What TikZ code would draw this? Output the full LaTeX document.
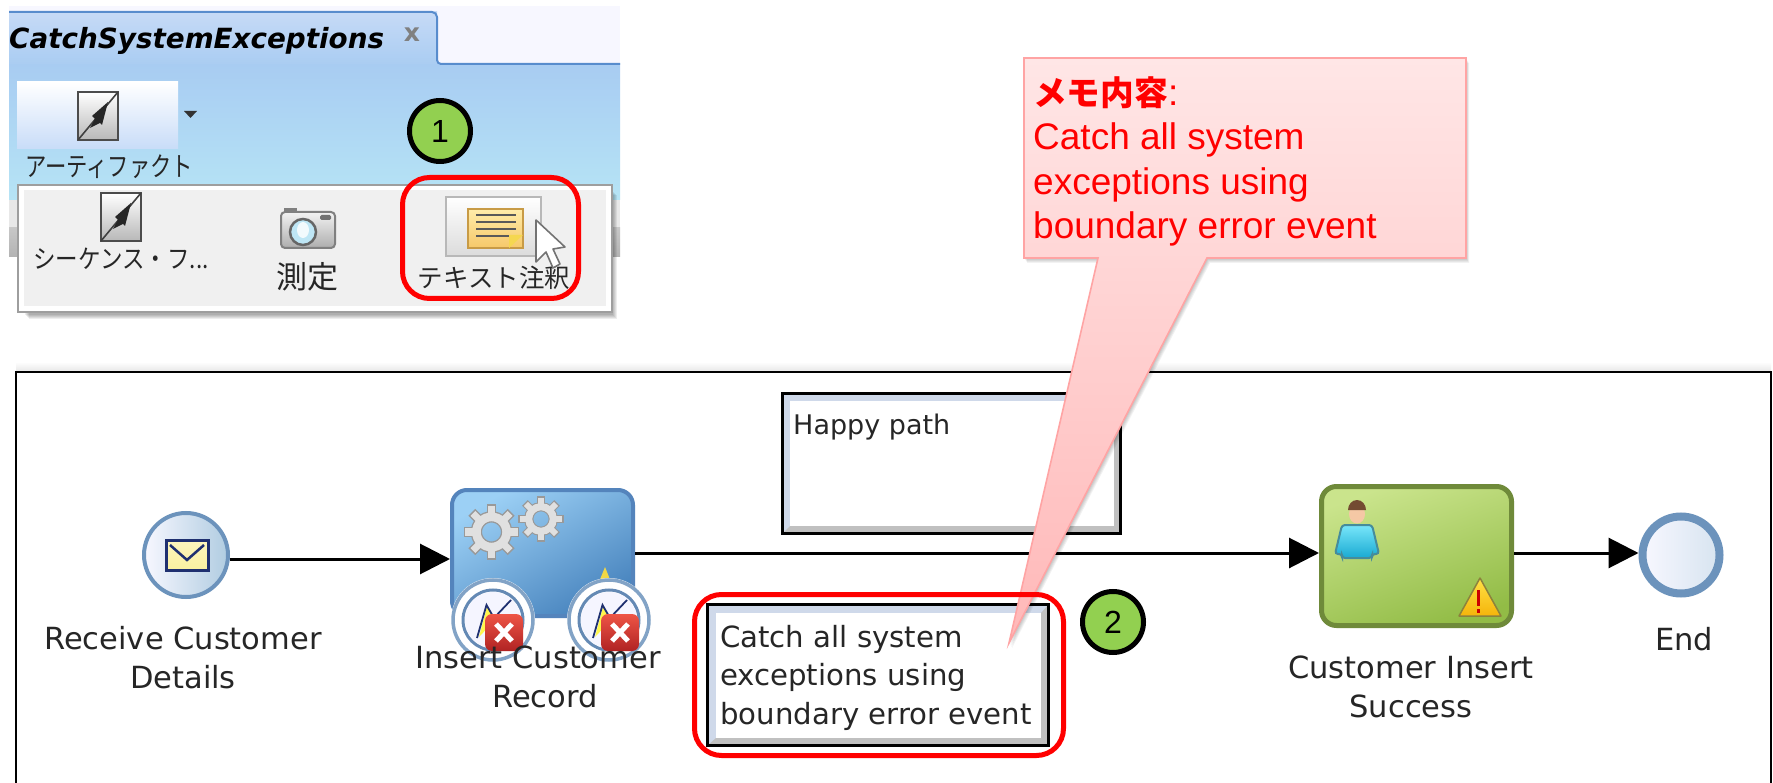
\documentclass[tikz,border=0pt]{standalone}
\usepackage{fontspec}
\usetikzlibrary{arrows.meta,shapes.geometric}
\setmainfont{Liberation Sans}
\newfontfamily\cjkfont{Noto Sans CJK JP}
\newfontfamily\pixfont{DejaVu Sans}
\newcommand{\fsz}[2]{\fontsize{#1pt}{#2pt}\selectfont}
\definecolor{badgegreen}{HTML}{92D050}
\definecolor{bevelblue}{HTML}{CFD9EA}
\definecolor{bevelgray}{HTML}{C0C0C0}
\definecolor{taskblue}{HTML}{5484BC}
\definecolor{eventblue}{HTML}{6C93BC}
\definecolor{taskgreen}{HTML}{6F8A3A}
\definecolor{navy}{HTML}{1F3070}
\definecolor{memoedge}{HTML}{FFA4A4}
\definecolor{pixtext}{HTML}{262626}
\definecolor{bandtop}{RGB}{168,204,242}
\definecolor{bandbot}{RGB}{182,228,245}
\definecolor{tabtop}{RGB}{198,218,246}
\definecolor{tabbot}{RGB}{170,205,242}
\definecolor{tabedge}{RGB}{88,140,205}
\definecolor{btnbot}{RGB}{200,220,248}
\definecolor{lensblue}{RGB}{190,230,245}
\definecolor{noteedge}{RGB}{200,155,70}
\definecolor{notetop}{RGB}{255,236,170}
\definecolor{notebot}{RGB}{246,200,105}
\definecolor{notefold}{RGB}{245,215,80}
\definecolor{startright}{RGB}{176,204,225}
\definecolor{envtop}{RGB}{252,246,190}
\definecolor{envbot}{RGB}{250,240,160}
\definecolor{taskbluetop}{RGB}{156,208,245}
\definecolor{taskbluebot}{RGB}{72,132,190}
\definecolor{warnsmall}{RGB}{240,215,70}
\definecolor{taskgreentop}{RGB}{202,228,140}
\definecolor{taskgreenbot}{RGB}{146,188,70}
\definecolor{skin}{RGB}{245,200,165}
\definecolor{hair}{RGB}{115,75,50}
\definecolor{shirtedge}{RGB}{70,140,155}
\definecolor{shirttop}{RGB}{120,230,250}
\definecolor{shirtbot}{RGB}{25,170,210}
\definecolor{warnedge}{RGB}{140,130,60}
\definecolor{warntop}{RGB}{255,225,70}
\definecolor{warnbot}{RGB}{245,180,10}
\definecolor{endright}{RGB}{215,228,240}
\definecolor{memotop}{RGB}{255,230,230}
\definecolor{memobot}{RGB}{255,184,184}
\definecolor{xtop}{RGB}{238,85,70}
\definecolor{xbot}{RGB}{176,35,35}
\tikzset{
  badge/.style={circle,draw=black,line width=5pt,fill=badgegreen,minimum size=61pt,inner sep=0pt,font=\fsz{32}{36}\color{black}},
  redbox/.style={rectangle,draw=red,line width=5pt,rounded corners=27pt,inner sep=0pt},
  notebox/.style={rectangle,draw=black,line width=3.5pt,inner sep=0pt},
  flow/.style={line width=3pt,draw=black,-{Triangle[length=30pt,width=30pt]}},
  diagramlabel/.style={font=\pixfont\fsz{30.5}{38.5},text=pixtext,align=center,inner sep=0pt},
  notetext/.style={font=\pixfont\fsz{29.2}{38.5},text=pixtext,align=left,inner sep=0pt},
  uitext/.style={font=\cjkfont\fsz{24.5}{28},text=black!85,inner sep=0pt},
  evt/.style={circle,inner sep=0pt,minimum size=84pt},
  flowicon/.pic={
    \draw[line width=1.8pt,draw=black!70,top color=white,bottom color=black!28] (-20,-24) rectangle (20,24);
    \draw[line width=1.6pt,black!75] (-20,24) -- (20,-24);
    \fill[black!85] (10,-14) -- (-6,0) -- (-3,3) -- (-8,12) -- (2,7) -- (4,9) -- cycle;
  },
}
\newcommand{\gearicon}[3]{%
  \foreach \a in {0,45,...,315}{\draw[line width=#3*0.36pt,black!40] (#1,#2)++(\a:#3*.45) -- ++(\a:#3*.58);}
  \draw[line width=#3*.42pt,black!40] (#1,#2) circle ({#3*.56});
  \foreach \a in {0,45,...,315}{\draw[line width=#3*0.26pt,black!12] (#1,#2)++(\a:#3*.45) -- ++(\a:#3*.52);}
  \draw[line width=#3*.32pt,black!12] (#1,#2) circle ({#3*.56});
}
\newcommand{\boundaryicon}[2]{%
  \fill[white] (#1,#2) circle (42);
  \draw[line width=3.5pt,eventblue!85] (#1,#2) circle (40);
  \draw[line width=3pt,eventblue!90!navy] (#1,#2) circle (30);
  \fill[blue!4] (#1,#2) circle (28);
  \fill[yellow!70!white] (#1-6,#2-13) -- (#1+3,#2-1) -- (#1-14,#2+17) -- cycle;
  \draw[line width=1.8pt,navy] (#1-16,#2+18) -- (#1-6.5,#2-15) -- (#1+1,#2-2) -- (#1+18,#2-20);
  \shade[rounded corners=7pt,top color=xtop,bottom color=xbot] (#1-8,#2-6) rectangle (#1+30,#2+31);
  \draw[white,line width=5pt] (#1+3,#2+4) -- (#1+19,#2+21) (#1+19,#2+4) -- (#1+3,#2+21);
}
\begin{document}
\begin{tikzpicture}[x=1pt,y=-1pt]
\useasboundingbox (0,0) rectangle (1773,783);
\fill[white] (0,0) rectangle (1773,783);

% ---------- toolbar screenshot
\fill[blue!3] (9,6) rectangle (620,64);
\fill[top color=bandtop,bottom color=bandbot] (9,64) rectangle (620,200);
\fill[top color=tabtop,bottom color=tabbot] (9,12) rectangle (437,64);
\draw[line width=2pt,tabedge] (9,12) -- (432,12) to[out=0,in=90] (437,17) -- (437,60) to[out=-90,in=180] (441,64) -- (620,64);
\fill[black!9] (9,200) rectangle (620,228);
\fill[top color=black!22,bottom color=black!30] (9,228) rectangle (620,257);
\node[font=\pixfont\bfseries\itshape\fsz{27.8}{30},text=black,anchor=base west,inner sep=0pt] (tabtitle) at (9,49) {CatchSystemExceptions};
\node[font=\pixfont\bfseries\fsz{25}{28},text=black!50,inner sep=0pt] (tabclose) at (412,35) {x};

\fill[top color=white,bottom color=btnbot] (17,82) rectangle (178,149);
\path (98,116) pic {flowicon};
\fill[black!80] (184,111) -- (197,111) -- (190.5,118) -- cycle;
\node[uitext] (artifact) at (109,167) {\scalebox{.87}[1.1]{アーティファクト}};

\foreach \i in {1,...,5}{\fill[black,opacity=.07] (24+\i,190+\i) rectangle (612+\i,314+\i);}
\node[rectangle,draw=black!38,line width=2pt,fill=white,minimum width=594pt,minimum height=127pt,inner sep=0pt] (menu) at (315,248.5) {};
\fill[black!6] (24,190) rectangle (606,306);
\path (121,217) pic {flowicon};
\node[uitext,font=\cjkfont\fsz{22.5}{26}] (seqflow) at (121,259) {\scalebox{1}[1.15]{シーケンス・フ...}};

\draw[line width=2pt,black!50,top color=black!5,bottom color=black!32,rounded corners=4pt] (281,212) rectangle (335,248);
\fill[black!50] (284,212) rectangle (297,208);
\fill[black!55,rounded corners=1.5pt] (320,215) rectangle (331,220);
\draw[line width=2.5pt,black!60,fill=lensblue] (303,232) ellipse (13 and 13);
\fill[white,opacity=.8] (303,230) ellipse (6 and 8);
\node[uitext,font=\cjkfont\fsz{31}{34}] (measure) at (307,277) {測定};

\draw[line width=2pt,black!28,top color=white,bottom color=black!14] (446,197) rectangle (541,256);
\draw[line width=2pt,noteedge,top color=notetop,bottom color=notebot] (468,209) rectangle (523,248);
\foreach \yy in {215,222,229,236}{\draw[line width=2pt,black!65] (476,\yy) -- (516,\yy);}
\fill[notefold] (509,248) -- (523,235) -- (509,235) -- cycle;
\node[uitext,font=\cjkfont\fsz{25.5}{28}] (textnote) at (494,278) {テキスト注釈};
\draw[line width=1.6pt,black!55,fill=white,line join=round] (536,220) -- (536,262) -- (546,252) -- (553,268) -- (560,264) -- (553,249) -- (565,247) -- cycle;

\node[badge] (badgeone) at (440,131) {1};
\node[redbox,minimum width=176pt,minimum height=121pt] (redone) at (490.5,238) {};

% ---------- process frame
\fill[top color=white,bottom color=black!9] (16,362) rectangle (1771,371);
\draw[line width=1.6pt,black] (16,783) -- (16,372) -- (1771,372) -- (1771,783);

% Happy path note
\fill[bevelblue] (783,394) rectangle (1120,532);
\fill[bevelgray] (1120,394) -- (1120,533) -- (783,533) -- (790,526) -- (1114,526) -- (1114,401) -- cycle;
\fill[white] (790,401) rectangle (1114,526);
\node[notebox,minimum width=338pt,minimum height=140pt] (happy) at (951.5,463.5) {};
\node[notetext,font=\pixfont\fsz{27}{30},anchor=base west] (happytext) at (793,435) {Happy path};

% Catch note
\fill[bevelblue] (708,605) rectangle (1048,745);
\fill[bevelgray] (1048,605) -- (1048,745) -- (708,745) -- (716,738) -- (1041,738) -- (1041,613) -- cycle;
\fill[white] (716,613) rectangle (1041,738);
\node[notebox,minimum width=341pt,minimum height=141pt] (catch) at (878,675) {};
\node[notetext,anchor=base west] (catchtext) at (720,724) {Catch all system\\exceptions using\\boundary error event};

% Tasks and events
\node[evt,draw=eventblue,line width=4pt,left color=blue!3,right color=startright] (start) at (186,555) {};
\draw[line width=3pt,navy,top color=envtop,bottom color=envbot] (166,540) rectangle (208,570);
\draw[line width=2.5pt,navy] (170,545) -- (187,560) -- (204,545);

\node[rectangle,rounded corners=15pt,draw=taskblue,line width=4pt,minimum width=181pt,minimum height=126pt,inner sep=0pt,top color=taskbluetop,bottom color=taskbluebot,shading angle=30] (taskone) at (542.5,553) {};
\gearicon{491.5}{532}{27}
\gearicon{541}{519}{22}
\fill[warnsmall] (605,567) -- (611,582) -- (599,582) -- cycle;
\boundaryicon{493}{620}
\boundaryicon{609}{620}

\node[rectangle,rounded corners=15pt,draw=taskgreen,line width=5pt,minimum width=190pt,minimum height=139pt,inner sep=0pt,top color=taskgreentop,bottom color=taskgreenbot,shading angle=20] (tasktwo) at (1416.5,556) {};
\fill[skin] (1357,514) ellipse (8 and 9.5);
\fill[hair] (1348,510) arc (180:360:9 and 10) -- cycle;
\draw[line width=2pt,shirtedge,top color=shirttop,bottom color=shirtbot,rounded corners=3pt] (1342,525) -- (1372,525) -- (1379,554) -- (1372,554) -- (1372,558) -- (1342,558) -- (1342,554) -- (1335,554) -- cycle;
\draw[line width=1.5pt,warnedge,top color=warntop,bottom color=warnbot,line join=round] (1480,578) -- (1501,616) -- (1459,616) -- cycle;
\fill[red!80!black] (1476.5,590) rectangle (1479.5,606);
\fill[red!80!black] (1476.5,609) rectangle (1479.5,613);

\node[evt,draw=eventblue,line width=8pt,minimum size=77pt,left color=blue!3,right color=endright] (endev) at (1681,555) {};

\draw[flow] ([yshift=-4pt]start.east) -- ([yshift=-6pt]taskone.west);
\draw[flow] (taskone.east) -- (tasktwo.west |- taskone.east);
\draw[flow] (tasktwo.east |- taskone.east) -- (endev.west |- taskone.east);

% labels
\node[diagramlabel,anchor=base] (lblreceive) at (183,688) {Receive Customer\\Details};
\node[diagramlabel,anchor=base] (lblinsert) at (538,707) {Insert Customer\\\hspace*{14pt}Record};
\node[diagramlabel,anchor=base] (lblsuccess) at (1411,717) {Customer Insert\\Success};
\node[diagramlabel,anchor=base] (lblend) at (1684,650) {End};

% memo callout
\foreach \i in {1,...,5}{\fill[black,opacity=.05] (1024+.6*\i,58+\i) -- (1466+.6*\i,58+\i) -- (1466+.6*\i,258+\i) -- (1207+.6*\i,258+\i) -- (1009+.6*\i,643+\i) -- (1098+.6*\i,258+\i) -- (1024+.6*\i,258+\i) -- cycle;}
\draw[line width=1.6pt,memoedge,top color=memotop,bottom color=memobot] (1024,58) -- (1466,58) -- (1466,258) -- (1207,258) -- (1009,643) -- (1098,258) -- (1024,258) -- cycle;
\node[font=\fsz{37}{44.5},text=red,align=left,anchor=base west,inner sep=0pt] (memo) at (1033,239) {{\cjkfont\bfseries\fsz{33.7}{44.5}メモ内容}:\\Catch all system\\exceptions using\\boundary error event};

\node[redbox,minimum width=369pt,minimum height=161pt] (redtwo) at (879,675) {};
\node[badge] (badgetwo) at (1113,622) {2};
\end{tikzpicture}
\end{document}
